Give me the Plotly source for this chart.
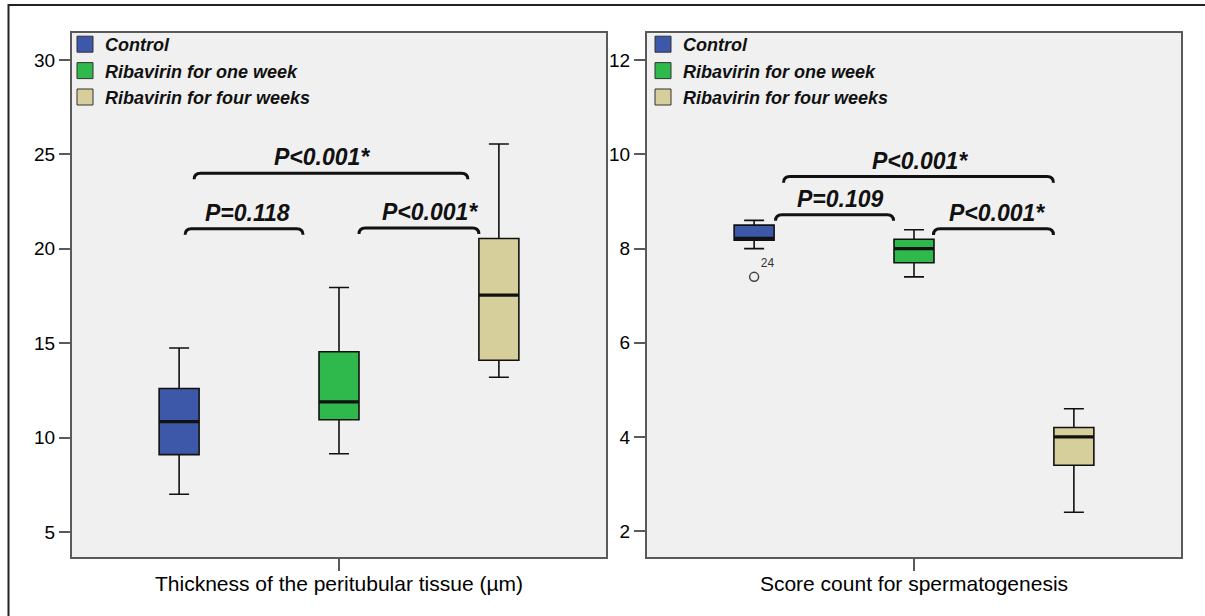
import plotly.graph_objects as go

# ---------------- data ----------------
groups = ["Control", "Ribavirin for one week", "Ribavirin for four weeks"]
colors = ["#3d58a8", "#2fb84c", "#d6cf9b"]
positions = [0, 1, 2]

# Thickness of the peritubular tissue (µm)
thk_lower = [7.0, 9.15, 13.2]
thk_q1 = [9.1, 10.95, 14.1]
thk_median = [10.85, 11.9, 17.55]
thk_q3 = [12.6, 14.55, 20.55]
thk_upper = [14.75, 17.95, 25.55]

# Score count for spermatogenesis
sc_lower = [8.0, 7.4, 2.4]
sc_q1 = [8.18, 7.7, 3.4]
sc_median = [8.22, 8.0, 4.0]
sc_q3 = [8.5, 8.2, 4.2]
sc_upper = [8.6, 8.4, 4.6]
sc_outlier_pos = [0]
sc_outlier_val = [7.4]
sc_outlier_lab = ["24"]

# significance brackets: (x start, x end, height, label, label x)
thk_brackets = [
    (0.094, 1.806, 24.0, "P<0.001*", 0.894),
    (0.0375, 0.775, 21.06, "P=0.118", 0.425),
    (1.125, 1.875, 21.1, "P<0.001*", 1.569),
]
sc_brackets = [
    (0.184, 1.872, 9.53, "P<0.001*", 1.04),
    (0.134, 0.872, 8.72, "P=0.109", 0.54),
    (1.122, 1.872, 8.42, "P<0.001*", 1.52),
]

FONT = "Liberation Sans, Arial, sans-serif"
BOXW = 0.25

fig = go.Figure()


def add_panel(xa, ya, lower, q1, med, q3, upper, legend_name):
    for i, g in enumerate(groups):
        fig.add_trace(go.Box(
            x=[positions[i]], q1=[q1[i]], median=[med[i]], q3=[q3[i]],
            lowerfence=[lower[i]], upperfence=[upper[i]],
            width=BOXW, whiskerwidth=0.5,
            fillcolor=colors[i], line=dict(color="#111111", width=1.6),
            boxpoints=False, showlegend=False, hoverinfo="skip",
            xaxis=xa, yaxis=ya))
        # thick median line
        fig.add_trace(go.Scatter(
            x=[positions[i] - BOXW / 2, positions[i] + BOXW / 2],
            y=[med[i], med[i]], mode="lines",
            line=dict(color="#111111", width=3.2),
            showlegend=False, hoverinfo="skip", xaxis=xa, yaxis=ya))
        # legend entry
        fig.add_trace(go.Scatter(
            x=[None], y=[None], mode="markers", name=g,
            marker=dict(symbol="square", size=16, color=colors[i],
                        line=dict(color="#333333", width=1)),
            legend=legend_name, xaxis=xa, yaxis=ya))


add_panel("x", "y", thk_lower, thk_q1, thk_median, thk_q3, thk_upper, "legend")
add_panel("x2", "y2", sc_lower, sc_q1, sc_median, sc_q3, sc_upper, "legend2")

# outlier
fig.add_trace(go.Scatter(
    x=sc_outlier_pos, y=sc_outlier_val, mode="markers+text",
    text=sc_outlier_lab, textposition="top right",
    textfont=dict(family=FONT, size=12, color="#333333"),
    marker=dict(symbol="circle-open", size=9, color="#444444", line=dict(width=1.5)),
    showlegend=False, hoverinfo="skip", xaxis="x2", yaxis="y2"))

shapes = []
annotations = []


def add_brackets(brackets, xref, yref, hook):
    for x0, x1, y, lab, lx in brackets:
        e = 0.04
        path = (f"M {x0},{y - hook} Q {x0},{y} {x0 + e},{y} "
                f"L {x1 - e},{y} Q {x1},{y} {x1},{y - hook}")
        shapes.append(dict(type="path", path=path, xref=xref, yref=yref,
                           line=dict(color="#111111", width=3)))
        annotations.append(dict(x=lx, y=y, xref=xref, yref=yref, text=lab,
                                showarrow=False, yanchor="middle", yshift=16,
                                font=dict(family=FONT, size=23, color="#111111",
                                          weight="bold", style="italic")))


add_brackets(thk_brackets, "x", "y", 0.32)
add_brackets(sc_brackets, "x2", "y2", 0.13)

# outer frame of the figure
shapes.append(dict(type="rect", xref="paper", yref="paper",
                   x0=8.5 / 1205, x1=1.02, y0=-0.05, y1=1 - 5 / 616,
                   line=dict(color="#222222", width=2), fillcolor="rgba(0,0,0,0)",
                   layer="below"))

axis_common = dict(showline=True, mirror=True, linecolor="#5a5a5a", linewidth=2,
                   showgrid=False, zeroline=False)
xcommon = dict(axis_common, tickmode="array", tickvals=[1], ticktext=[""],
               ticks="outside", ticklen=12, tickcolor="#5a5a5a", tickwidth=1.5,
               range=[-0.67, 2.67], showticklabels=False)
ycommon = dict(axis_common, ticks="outside", ticklen=11, tickcolor="#5a5a5a",
               tickwidth=1.5, tickfont=dict(family=FONT, size=19, color="#000000"))

legend_font = dict(family=FONT, size=18, color="#111111", weight="bold", style="italic")

fig.update_layout(
    width=1205, height=616,
    margin=dict(l=0, r=0, t=0, b=0),
    paper_bgcolor="white",
    plot_bgcolor="#f0f0f0",
    boxmode="overlay",
    xaxis=dict(xcommon, domain=[72 / 1205, 606 / 1205], anchor="y",
               title=dict(text="Thickness of the peritubular tissue (µm)", standoff=6,
                          font=dict(family=FONT, size=21, color="#000000"))),
    yaxis=dict(ycommon, domain=[1 - 557 / 616, 1 - 33 / 616], anchor="x",
               range=[3.68, 31.43], tickvals=[5, 10, 15, 20, 25, 30]),
    xaxis2=dict(xcommon, domain=[647 / 1205, 1181 / 1205], anchor="y2",
                title=dict(text="Score count for spermatogenesis", standoff=6,
                           font=dict(family=FONT, size=21, color="#000000"))),
    yaxis2=dict(ycommon, domain=[1 - 557 / 616, 1 - 33 / 616], anchor="x2",
                range=[1.45, 12.58], tickvals=[2, 4, 6, 8, 10, 12]),
    legend=dict(x=65 / 1205, y=1 - 26 / 616, xanchor="left", yanchor="top",
                bgcolor="rgba(0,0,0,0)", tracegroupgap=0, font=legend_font),
    legend2=dict(x=643 / 1205, y=1 - 26 / 616, xanchor="left", yanchor="top",
                 bgcolor="rgba(0,0,0,0)", tracegroupgap=0, font=legend_font),
    shapes=shapes,
    annotations=annotations,
)

fig.write_html("out.html",
               config={"displayModeBar": False},
               post_script="document.body.style.margin='0';document.body.style.overflow='hidden';")
